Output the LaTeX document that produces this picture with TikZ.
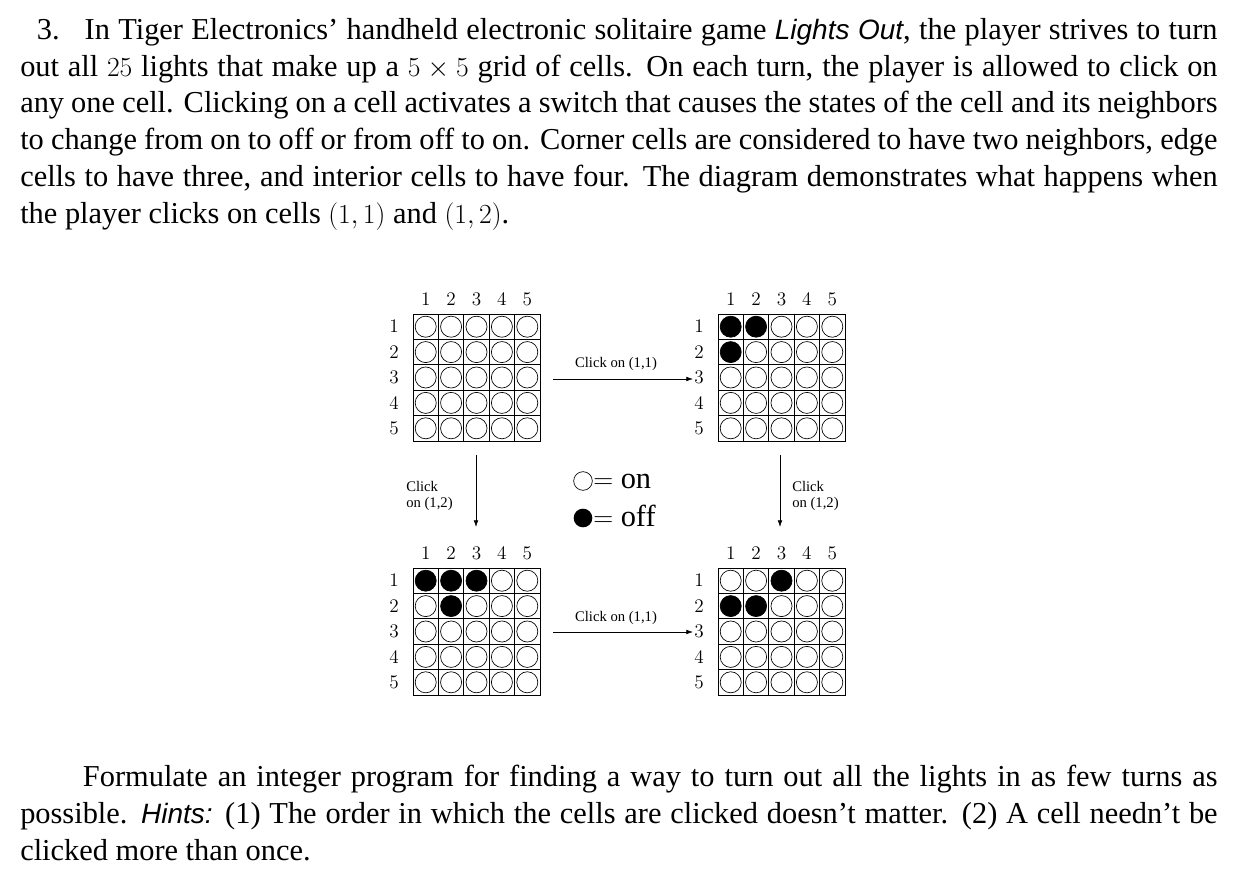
\documentclass[tikz,border=0pt]{standalone}
\usepackage{fontspec}
\setmainfont{Liberation Serif}
\newfontfamily\hsans{Liberation Sans}[Scale=0.92]
\usetikzlibrary{arrows.meta,calc}
\begin{document}
\begin{tikzpicture}[x=0.75pt,y=-0.75pt,
  txt/.style={anchor=base west,inner sep=0,font=\fontsize{22.8}{28}\selectfont},
  num/.style={inner sep=0,font=\fontsize{13.3}{16}\selectfont},
  lab/.style={inner sep=0,font=\fontsize{11}{12.5}\selectfont,align=left},
  arr/.style={-{Latex[length=5pt,width=3.5pt]},line width=0.5pt},
  lamp/.style={circle,draw,line width=0.5pt,minimum size=15.8pt,inner sep=0}]
\useasboundingbox (0,0) rectangle (1250,887);
\def\W{898pt}
\node[txt] (l1) at (20,40) {\makebox[\W][s]{\ \ 3.\ \ \ In Tiger Electronics' handheld electronic solitaire game {\hsans\itshape Lights Out}, the player strives to turn}};
\node[txt] (l2) at (20,77) {\makebox[\W][s]{out all $25$ lights that make up a $5\times 5$ grid of cells. On each turn, the player is allowed to click on}};
\node[txt] (l3) at (20,113) {\makebox[\W][s]{any one cell. Clicking on a cell activates a switch that causes the states of the cell and its neighbors}};
\node[txt] (l4) at (20,150) {\makebox[\W][s]{to change from on to off or from off to on. Corner cells are considered to have two neighbors, edge}};
\node[txt] (l5) at (20,187) {\makebox[\W][s]{cells to have three, and interior cells to have four. The diagram demonstrates what happens when}};
\node[txt] (l6) at (20,224) {the player clicks on cells $(1,1)$ and $(1,2)$.};
\node[txt] (b1) at (20,786) {\makebox[\W][s]{\hspace{47pt}Formulate an integer program for finding a way to turn out all the lights in as few turns as}};
\node[txt] (b2) at (20,823) {\makebox[\W][s]{possible. {\hsans\itshape Hints:} (1) The order in which the cells are clicked doesn't matter. (2) A cell needn't be}};
\node[txt] (b3) at (20,860) {clicked more than once.};
\newcommand{\lgrid}[4]{%
  \node[draw,line width=0.6pt,minimum width=95.25pt,minimum height=95.25pt,inner sep=0,anchor=north west] (#1) at (#2,#3) {};
  \foreach \k in {1,...,4} {
    \draw[line width=0.5pt] ($(#1.north west)+(25.4*\k,0)$) -- ++(0,127);
    \draw[line width=0.5pt] ($(#1.north west)+(0,25.4*\k)$) -- ++(127,0);
  }
  \foreach \r in {1,...,5} {
    \node[num] (#1c\r) at (#2+12.7+25.4*\r-25.4,#3-15) {$\r$};
    \node[num] (#1r\r) at (#2-19,#3+12.7+25.4*\r-25.4) {$\r$};
    \foreach \c in {1,...,5} {
      \node[lamp] (#1-\r-\c) at (#2+12.7+25.4*\c-25.4,#3+12.7+25.4*\r-25.4) {};
    }
  }
  \foreach \r/\c in {#4} { \fill (#1-\r-\c) circle (7.9pt); }
}
\lgrid{ga}{413}{314}{}
\lgrid{gb}{718}{314}{1/1,1/2,2/1}
\lgrid{gc}{413}{568}{1/1,1/2,1/3,2/2}
\lgrid{gd}{718}{568}{1/3,2/1,2/2}
\coordinate (h1s) at (553,379); \coordinate (h1e) at (693,379);
\coordinate (h2s) at (553,632); \coordinate (h2e) at (693,632);
\coordinate (v1s) at (476,455); \coordinate (v1e) at (476,527);
\coordinate (v2s) at (780,455); \coordinate (v2e) at (780,527);
\draw[arr] (h1s) -- (h1e);
\draw[arr] (h2s) -- (h2e);
\draw[arr] (v1s) -- (v1e);
\draw[arr] (v2s) -- (v2e);
\node[lab] (t1) at (616,364) {Click on (1,1)};
\node[lab] (t2) at (616,618) {Click on (1,1)};
\node[lab,anchor=west] (t3) at (406,496) {Click\\on (1,2)};
\node[lab,anchor=west] (t4) at (792,496) {Click\\on (1,2)};
\node[circle,draw,line width=0.5pt,minimum size=14pt,inner sep=0] (on) at (583,481) {};
\node[circle,fill,minimum size=14pt,inner sep=0] (off) at (583,518) {};
\node[anchor=base west,inner sep=0,font=\fontsize{22.8}{28}\selectfont] (ont) at (593,489) {$=$ on};
\node[anchor=base west,inner sep=0,font=\fontsize{22.8}{28}\selectfont] (offt) at (593,527) {$=$ off};
\end{tikzpicture}
\end{document}
